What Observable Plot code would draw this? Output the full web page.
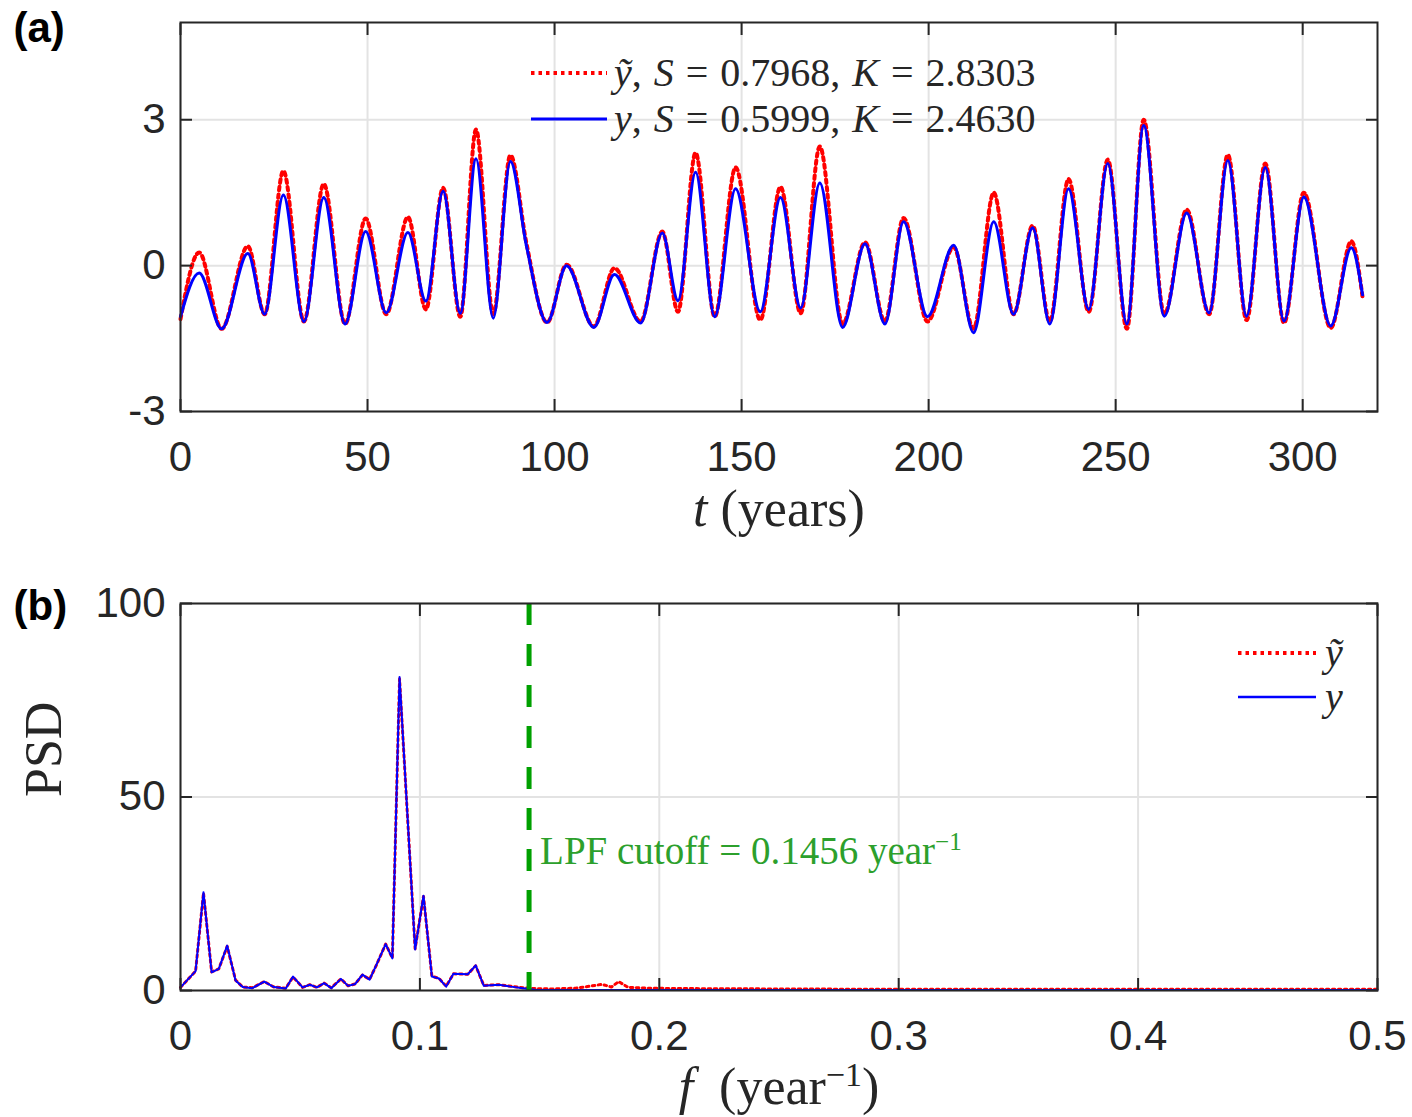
<!DOCTYPE html>
<html><head><meta charset="utf-8">
<script src="https://cdn.jsdelivr.net/npm/d3@7"></script>
<script src="https://cdn.jsdelivr.net/npm/@observablehq/plot@0.6"></script>
<style>
body{margin:0;background:#fff;}
#wrap{width:1412px;}
#wrap svg{display:block;}
</style></head><body><div id="wrap"></div>
<script>
// ---------- Panel (a): time series ----------
const tYears = [0, 5, 11, 18, 22.5, 27.5, 33, 38.3, 44, 49.5, 55, 60.8, 65.6, 70.2, 74.8, 79, 83.6, 88.2, 92.5, 98,
  103.2, 110.5, 116, 123, 128.8, 133, 137.7, 142.8, 148.4, 155, 160.4, 165.8, 170.9, 177, 183, 188.3, 193.3, 199.7, 206.7, 212,
  217.4, 222.7, 227.8, 232.4, 237.4, 242.8, 247.9, 253, 257.5, 263, 269, 275, 280, 285, 290, 295, 300.3, 307.5, 313, 316];
const yFiltered = [-1.05, -0.15, -1.3, 0.25, -1.0, 1.45, -1.15, 1.4, -1.2, 0.7, -0.97, 0.68, -0.73, 1.53, -0.98, 2.2, -1.08, 2.14, 0.4, -1.17,
  0.0, -1.27, -0.18, -1.18, 0.67, -0.72, 1.92, -1.05, 1.58, -0.95, 1.4, -0.87, 1.7, -1.27, 0.45, -1.2, 0.9, -1.05, 0.42, -1.38,
  0.9, -1.0, 0.78, -1.2, 1.58, -0.9, 2.1, -1.2, 2.88, -1.04, 1.08, -0.97, 2.16, -1.04, 2.02, -1.14, 1.41, -1.24, 0.37, -0.6];
const yRaw = [-1.1, 0.27, -1.3, 0.4, -1.0, 1.95, -1.15, 1.68, -1.2, 0.97, -1.0, 1.0, -0.9, 1.6, -1.05, 2.8, -1.0, 2.27, 0.45, -1.17,
  0.02, -1.25, -0.05, -1.15, 0.7, -0.95, 2.32, -1.05, 2.02, -1.12, 1.62, -0.98, 2.45, -1.2, 0.48, -1.15, 0.98, -1.15, 0.38, -1.3,
  1.5, -1.0, 0.82, -1.15, 1.78, -0.95, 2.18, -1.3, 3.0, -1.0, 1.15, -1.0, 2.28, -1.12, 2.1, -1.18, 1.5, -1.28, 0.5, -0.65];
const xTicksA = [0, 50, 100, 150, 200, 250, 300];
const yTicksA = [-3, 0, 3];

// ---------- Panel (b): power spectral density ----------
const freq = [0, 0.0063, 0.0096, 0.013, 0.016, 0.0195, 0.023, 0.026, 0.030, 0.035,
  0.039, 0.044, 0.047, 0.051, 0.054, 0.057, 0.060, 0.063, 0.067, 0.070,
  0.073, 0.076, 0.079, 0.082, 0.0857, 0.0885, 0.0915, 0.098, 0.1015, 0.105,
  0.108, 0.111, 0.114, 0.120, 0.1233, 0.1267, 0.133, 0.138, 0.143, 0.148,
  0.155, 0.165, 0.172, 0.176, 0.18, 0.183, 0.187, 0.195, 0.21, 0.25,
  0.3, 0.35, 0.4, 0.45, 0.5];
const psdFiltered = [0.8, 5, 25.4, 4.7, 5.6, 11.6, 2.6, 0.9, 0.6, 2.3,
  0.9, 0.5, 3.6, 0.8, 1.5, 0.8, 1.9, 0.6, 3.0, 1.2,
  1.7, 4.1, 2.8, 6.9, 12, 8.3, 81, 10.6, 24.5, 3.6,
  3.1, 1.0, 4.3, 4.2, 6.5, 1.2, 1.5, 1.0, 0.6, 0.2,
  0.1, 0.1, 0.1, 0.1, 0.1, 0.1, 0.1, 0.1, 0.1, 0.1,
  0.1, 0.1, 0.1, 0.1, 0.1];
const psdRaw = [0.8, 5, 25.2, 4.8, 5.6, 11.4, 2.7, 0.9, 0.7, 2.3,
  0.9, 0.6, 3.5, 0.8, 1.5, 0.8, 1.9, 0.7, 3.0, 1.2,
  1.7, 4.0, 2.9, 6.8, 12, 8.4, 80.5, 10.8, 24.3, 3.7,
  3.1, 1.1, 4.3, 4.2, 6.4, 1.3, 1.5, 1.1, 0.7, 0.5,
  0.4, 0.6, 1.2, 1.6, 0.9, 2.3, 0.8, 0.6, 0.5, 0.4,
  0.3, 0.3, 0.3, 0.3, 0.3];
const cutoff = 0.1456;
const cutoffLabelPSD = 36;
const xTicksB = [0, 0.1, 0.2, 0.3, 0.4, 0.5];
const yTicksB = [0, 50, 100];

const seriesA = tYears.map((t, i) => ({t, raw: yRaw[i], filt: yFiltered[i]}));
const seriesB = freq.map((f, i) => ({f, raw: psdRaw[i], filt: psdFiltered[i]}));

const SANS = "'Liberation Sans', Arial, Helvetica, sans-serif";
const SERIF = "'Liberation Serif', 'Times New Roman', serif";
const INK = "#262626";
const GRID = "#e3e3e3";
const RED = "#ff0000", BLUE = "#0000ff", GREEN = "#00a000", GREEN_TXT = "#2ca02c";

function axesFor(xt, yt, fmtY) {
  return [
    Plot.axisX(xt, {anchor: "bottom", tickSize: 0, tickPadding: 30, label: null, tickFormat: d => String(d)}),
    Plot.axisX(xt, {anchor: "bottom", tickSize: -12, strokeWidth: 2, label: null, tickFormat: () => ""}),
    Plot.axisX(xt, {anchor: "top", tickSize: -12, strokeWidth: 2, label: null, tickFormat: () => ""}),
    Plot.axisY(yt, {anchor: "left", tickSize: 0, tickPadding: 15, label: null, tickFormat: fmtY}),
    Plot.axisY(yt, {anchor: "left", tickSize: -12, strokeWidth: 2, label: null, tickFormat: () => ""}),
    Plot.axisY(yt, {anchor: "right", tickSize: -12, strokeWidth: 2, label: null, tickFormat: () => ""})
  ];
}

const style = {fontFamily: SANS, fontSize: "42px", color: INK, background: "#fff", overflow: "visible"};

const chartA = Plot.plot({
  width: 1412, height: 560,
  marginLeft: 180, marginRight: 35, marginTop: 22, marginBottom: 149,
  style,
  x: {domain: [0, 320]},
  y: {domain: [-3, 5]},
  marks: [
    Plot.gridX(xTicksA, {stroke: GRID, strokeOpacity: 1, strokeWidth: 2}),
    Plot.gridY(yTicksA, {stroke: GRID, strokeOpacity: 1, strokeWidth: 2}),
    Plot.line(seriesA, {x: "t", y: "raw", stroke: RED, strokeWidth: 4, strokeDasharray: "3.5,4", curve: "monotone-x"}),
    Plot.line(seriesA, {x: "t", y: "filt", stroke: BLUE, strokeWidth: 3, curve: "monotone-x"}),
    Plot.frame({stroke: INK, strokeWidth: 2}),
    ...axesFor(xTicksA, yTicksA, d => String(d)),
    Plot.text(["t (years)"], {text: d => d, frameAnchor: "bottom", dy: 98, lineAnchor: "middle", fontFamily: SERIF, fontSize: 52, fill: INK}),
    Plot.text(["(a)"], {text: d => d, frameAnchor: "top-left", dx: -167, dy: 6, textAnchor: "start", lineAnchor: "middle", fontFamily: SANS, fontWeight: "bold", fontSize: 42, fill: "#000"})
  ]
});

const chartB = Plot.plot({
  width: 1412, height: 557,
  marginLeft: 180, marginRight: 35, marginTop: 43, marginBottom: 127,
  style,
  x: {domain: [0, 0.5]},
  y: {domain: [0, 100]},
  marks: [
    Plot.gridX(xTicksB, {stroke: GRID, strokeOpacity: 1, strokeWidth: 2}),
    Plot.gridY(yTicksB, {stroke: GRID, strokeOpacity: 1, strokeWidth: 2}),
    Plot.line(seriesB, {x: "f", y: "raw", stroke: RED, strokeWidth: 3, strokeDasharray: "2.5,3.5"}),
    Plot.line(seriesB, {x: "f", y: "filt", stroke: BLUE, strokeWidth: 2}),
    Plot.ruleX([cutoff], {stroke: GREEN, strokeWidth: 5, strokeDasharray: "22,19"}),
    Plot.text([{f: cutoff, v: cutoffLabelPSD}], {x: "f", y: "v", text: () => "LPF cutoff = 0.1456 year-1", dx: 11, textAnchor: "start", lineAnchor: "middle", fontFamily: SERIF, fontSize: 39, fill: GREEN_TXT}),
    Plot.frame({stroke: INK, strokeWidth: 2}),
    ...axesFor(xTicksB, yTicksB, d => String(d)),
    Plot.text(["f (year-1)"], {text: d => d, frameAnchor: "bottom", dy: 97, lineAnchor: "middle", fontFamily: SERIF, fontSize: 52, fill: INK}),
    Plot.text(["PSD"], {text: d => d, frameAnchor: "left", dx: -136, rotate: -90, lineAnchor: "middle", fontFamily: SERIF, fontSize: 52, fill: INK}),
    Plot.text(["(b)"], {text: d => d, frameAnchor: "top-left", dx: -167, dy: 3, textAnchor: "start", lineAnchor: "middle", fontFamily: SANS, fontWeight: "bold", fontSize: 42, fill: "#000"})
  ]
});

const wrap = document.getElementById("wrap");
wrap.appendChild(chartA);
wrap.appendChild(chartB);

function rich(svg, plain, html) {
  d3.select(svg).selectAll("text").filter(function () { return this.textContent === plain; }).html(html);
}
rich(chartA, "t (years)", '<tspan font-style="italic">t</tspan> (years)');
rich(chartB, "f (year-1)", '<tspan font-style="italic">f</tspan>  (year<tspan dy="-18" font-size="34">\u22121</tspan><tspan dy="18">)</tspan>');
rich(chartB, "LPF cutoff = 0.1456 year-1", 'LPF cutoff = 0.1456 year<tspan dy="-14" font-size="25">\u22121</tspan>');

// legends
function legend(svg, items) {
  const g = d3.select(svg).append("g").attr("class", "legend").attr("text-anchor", "start");
  for (const it of items) {
    g.append("line").attr("x1", it.x1).attr("x2", it.x2).attr("y1", it.y).attr("y2", it.y)
      .attr("stroke", it.color).attr("stroke-width", it.w).attr("stroke-dasharray", it.dash || null);
    g.append("text").attr("x", it.tx).attr("y", it.y).attr("dy", "0.32em")
      .attr("text-anchor", "start")
      .attr("font-family", SERIF).attr("font-size", it.fs).attr("fill", INK)
      .style("white-space", "pre").style("word-spacing", "2px").html(it.html);
  }
}
legend(chartA, [
  {x1: 531, x2: 607, y: 73, color: RED, w: 4, dash: "3.5,4", tx: 614, fs: 40,
   html: '<tspan font-style="italic">\u1EF9</tspan>, <tspan font-style="italic">S</tspan> = 0.7968, <tspan font-style="italic">K</tspan> = 2.8303'},
  {x1: 531, x2: 607, y: 119, color: BLUE, w: 3, tx: 614, fs: 40,
   html: '<tspan font-style="italic">y</tspan>, <tspan font-style="italic">S</tspan> = 0.5999, <tspan font-style="italic">K</tspan> = 2.4630'}
]);
legend(chartB, [
  {x1: 1238, x2: 1316, y: 93, color: RED, w: 4, dash: "3.5,4", tx: 1325, fs: 40, html: '<tspan font-style="italic">\u1EF9</tspan>'},
  {x1: 1238, x2: 1316, y: 137, color: BLUE, w: 2.5, tx: 1325, fs: 40, html: '<tspan font-style="italic">y</tspan>'}
]);
</script></body></html>
